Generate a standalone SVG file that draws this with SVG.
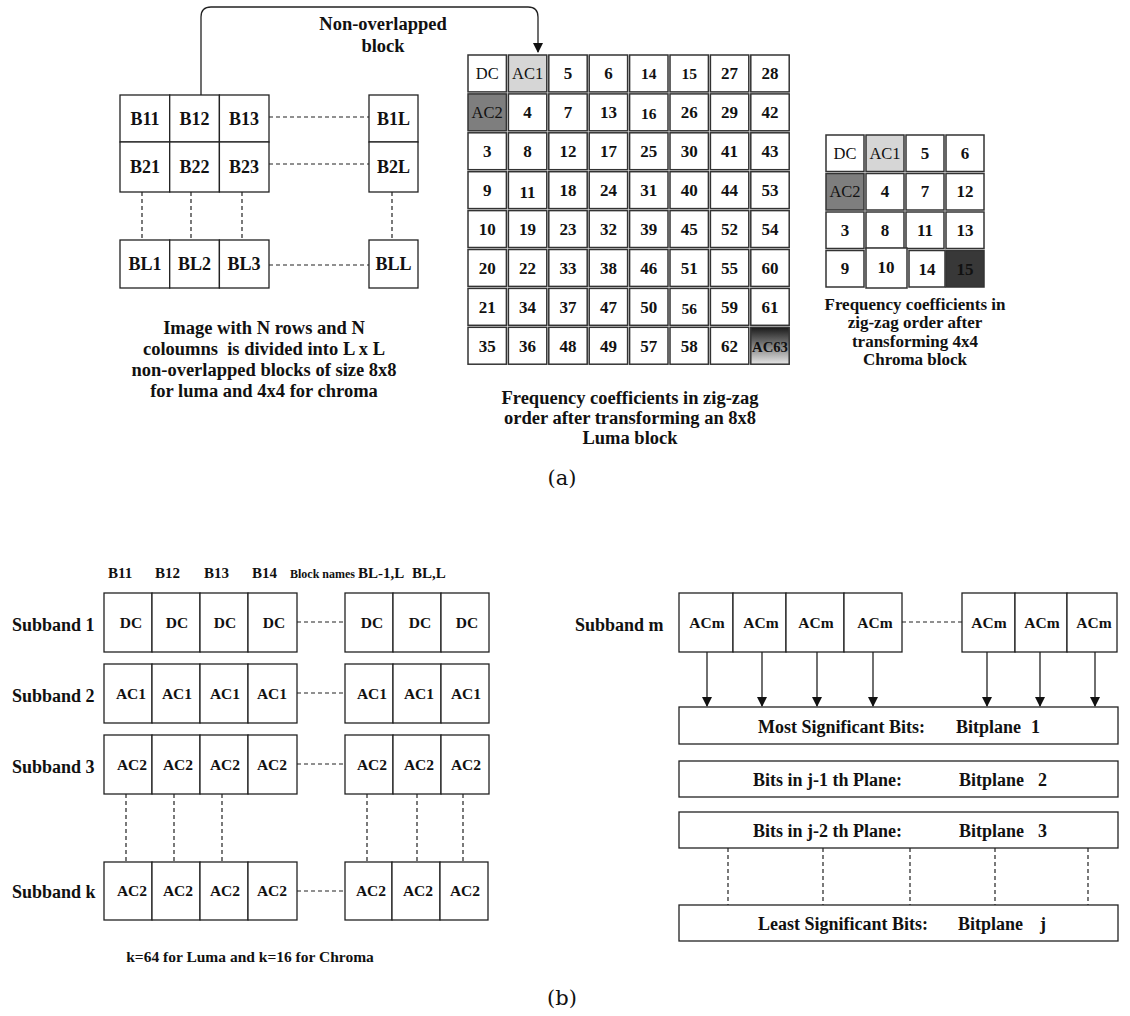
<svg xmlns="http://www.w3.org/2000/svg" width="1130" height="1016" viewBox="0 0 1130 1016">
<style>
text{font-family:"Liberation Serif","Times New Roman",serif;fill:#111}
.b{font-weight:bold}
.cell{fill:#fff;stroke:#333;stroke-width:1.5}
.box{fill:#fff;stroke:#222;stroke-width:1.3}
.dash{stroke:#222;stroke-width:1.2;stroke-dasharray:4,3;fill:none}
.ln{stroke:#222;stroke-width:1.3;fill:none}
.n{font-weight:bold;font-size:17px;text-anchor:middle}
.sm{font-size:15.5px}
.s{font-size:16.5px;text-anchor:middle}
.bl{font-weight:bold;font-size:18px;text-anchor:middle}
.cap{font-weight:bold;font-size:18.5px;text-anchor:middle}
.ccap{font-weight:bold;font-size:17px;text-anchor:middle}
.lab{font-weight:bold;font-size:18px}
.ac{font-weight:bold;font-size:15.5px;text-anchor:middle}
</style>
<defs>
<marker id="arr" markerWidth="10" markerHeight="12" refX="9" refY="5" orient="auto" markerUnits="userSpaceOnUse">
<path d="M0,0 L10,5 L0,10 z" fill="#111"/>
</marker>
<linearGradient id="g63" x1="0" y1="0" x2="0" y2="1">
<stop offset="0" stop-color="#1a1a1a"/>
<stop offset="1" stop-color="#e6e6e6"/>
</linearGradient>
</defs>

<!-- connectors -->
<g id="connectors">
<path class="ln" d="M201,95 V17 Q201,7 211,7 H528 Q538,7 538,17 V52" marker-end="url(#arr)"/>
<line class="dash" x1="269" y1="117" x2="369" y2="117"/>
<line class="dash" x1="269" y1="164" x2="369" y2="164"/>
<line class="dash" x1="269" y1="265" x2="369" y2="265"/>
<line class="dash" x1="142" y1="192" x2="142" y2="240"/>
<line class="dash" x1="191" y1="192" x2="191" y2="240"/>
<line class="dash" x1="242" y1="192" x2="242" y2="240"/>
<line class="dash" x1="392" y1="192" x2="392" y2="240"/>
<line class="dash" x1="297" y1="622" x2="345" y2="622"/>
<line class="dash" x1="297" y1="693" x2="345" y2="693"/>
<line class="dash" x1="297" y1="764" x2="345" y2="764"/>
<line class="dash" x1="297" y1="891" x2="345" y2="891"/>
<line class="dash" x1="126" y1="794" x2="126" y2="862"/>
<line class="dash" x1="174" y1="794" x2="174" y2="862"/>
<line class="dash" x1="222" y1="794" x2="222" y2="862"/>
<line class="dash" x1="367" y1="794" x2="367" y2="862"/>
<line class="dash" x1="417" y1="794" x2="417" y2="862"/>
<line class="dash" x1="463" y1="794" x2="463" y2="862"/>
<line class="dash" x1="902" y1="622" x2="962" y2="622"/>
<g marker-end="url(#arr)">
<line class="ln" x1="707" y1="652" x2="707" y2="706"/>
<line class="ln" x1="762" y1="652" x2="762" y2="706"/>
<line class="ln" x1="817" y1="652" x2="817" y2="706"/>
<line class="ln" x1="873" y1="652" x2="873" y2="706"/>
<line class="ln" x1="987" y1="652" x2="987" y2="706"/>
<line class="ln" x1="1040" y1="652" x2="1040" y2="706"/>
<line class="ln" x1="1095" y1="652" x2="1095" y2="706"/>
</g>
<line class="dash" x1="728" y1="848" x2="728" y2="905"/>
<line class="dash" x1="823" y1="848" x2="823" y2="905"/>
<line class="dash" x1="910" y1="848" x2="910" y2="905"/>
<line class="dash" x1="995" y1="848" x2="995" y2="905"/>
<line class="dash" x1="1088" y1="848" x2="1088" y2="905"/>
</g>

<text class="b" x="383" y="30" font-size="18.5" text-anchor="middle">Non-overlapped</text>
<text class="b" x="383" y="52" font-size="18.5" text-anchor="middle">block</text>

<!-- image blocks -->
<g id="image-blocks">
<rect class="box" x="120" y="95" width="49.7" height="47"/>
<rect class="box" x="169.7" y="95" width="49.7" height="47"/>
<rect class="box" x="219.4" y="95" width="49.6" height="47"/>
<rect class="box" x="120" y="142" width="49.7" height="50"/>
<rect class="box" x="169.7" y="142" width="49.7" height="50"/>
<rect class="box" x="219.4" y="142" width="49.6" height="50"/>
<rect class="box" x="369" y="95" width="49" height="47"/>
<rect class="box" x="369" y="142" width="49" height="50"/>
<rect class="box" x="120" y="240" width="49.7" height="48"/>
<rect class="box" x="169.7" y="240" width="49.7" height="48"/>
<rect class="box" x="219.4" y="240" width="49.6" height="48"/>
<rect class="box" x="369" y="240" width="49" height="48"/>
<text class="bl" x="145" y="125">B11</text>
<text class="bl" x="194.5" y="125">B12</text>
<text class="bl" x="244" y="125">B13</text>
<text class="bl" x="393.5" y="125">B1L</text>
<text class="bl" x="145" y="173">B21</text>
<text class="bl" x="194.5" y="173">B22</text>
<text class="bl" x="244" y="173">B23</text>
<text class="bl" x="393.5" y="173">B2L</text>
<text class="bl" x="145" y="270">BL1</text>
<text class="bl" x="194.5" y="270">BL2</text>
<text class="bl" x="244" y="270">BL3</text>
<text class="bl" x="393.5" y="270">BLL</text>
</g>
<g id="image-caption">
<text class="cap" x="264" y="334">Image with N rows and N</text>
<text class="cap" x="264" y="355" xml:space="preserve">coloumns  is divided into L x L</text>
<text class="cap" x="264" y="376">non-overlapped blocks of size 8x8</text>
<text class="cap" x="264" y="397">for luma and 4x4 for chroma</text>
</g>

<!-- luma grid -->
<g id="luma-grid">
<g transform="translate(467,54)">
<rect class="cell" x="1" y="1" width="38.4" height="36.9" fill="#fcfcfc"/>
<rect class="cell" x="41.4" y="1" width="38.4" height="36.9" style="fill:#d6d6d6"/>
<rect class="cell" x="81.8" y="1" width="38.4" height="36.9"/>
<rect class="cell" x="122.2" y="1" width="38.4" height="36.9"/>
<rect class="cell" x="162.6" y="1" width="38.4" height="36.9"/>
<rect class="cell" x="203" y="1" width="38.4" height="36.9"/>
<rect class="cell" x="243.4" y="1" width="38.4" height="36.9"/>
<rect class="cell" x="283.8" y="1" width="38.4" height="36.9"/>

<rect class="cell" x="1" y="39.9" width="38.4" height="36.9" style="fill:#7e7e7e"/>
<rect class="cell" x="41.4" y="39.9" width="38.4" height="36.9"/>
<rect class="cell" x="81.8" y="39.9" width="38.4" height="36.9"/>
<rect class="cell" x="122.2" y="39.9" width="38.4" height="36.9"/>
<rect class="cell" x="162.6" y="39.9" width="38.4" height="36.9"/>
<rect class="cell" x="203" y="39.9" width="38.4" height="36.9"/>
<rect class="cell" x="243.4" y="39.9" width="38.4" height="36.9"/>
<rect class="cell" x="283.8" y="39.9" width="38.4" height="36.9"/>

<rect class="cell" x="1" y="78.8" width="38.4" height="36.9"/>
<rect class="cell" x="41.4" y="78.8" width="38.4" height="36.9"/>
<rect class="cell" x="81.8" y="78.8" width="38.4" height="36.9"/>
<rect class="cell" x="122.2" y="78.8" width="38.4" height="36.9"/>
<rect class="cell" x="162.6" y="78.8" width="38.4" height="36.9"/>
<rect class="cell" x="203" y="78.8" width="38.4" height="36.9"/>
<rect class="cell" x="243.4" y="78.8" width="38.4" height="36.9"/>
<rect class="cell" x="283.8" y="78.8" width="38.4" height="36.9"/>

<rect class="cell" x="1" y="117.7" width="38.4" height="36.9"/>
<rect class="cell" x="41.4" y="117.7" width="38.4" height="36.9"/>
<rect class="cell" x="81.8" y="117.7" width="38.4" height="36.9"/>
<rect class="cell" x="122.2" y="117.7" width="38.4" height="36.9"/>
<rect class="cell" x="162.6" y="117.7" width="38.4" height="36.9"/>
<rect class="cell" x="203" y="117.7" width="38.4" height="36.9"/>
<rect class="cell" x="243.4" y="117.7" width="38.4" height="36.9"/>
<rect class="cell" x="283.8" y="117.7" width="38.4" height="36.9"/>

<rect class="cell" x="1" y="156.6" width="38.4" height="36.9"/>
<rect class="cell" x="41.4" y="156.6" width="38.4" height="36.9"/>
<rect class="cell" x="81.8" y="156.6" width="38.4" height="36.9"/>
<rect class="cell" x="122.2" y="156.6" width="38.4" height="36.9"/>
<rect class="cell" x="162.6" y="156.6" width="38.4" height="36.9"/>
<rect class="cell" x="203" y="156.6" width="38.4" height="36.9"/>
<rect class="cell" x="243.4" y="156.6" width="38.4" height="36.9"/>
<rect class="cell" x="283.8" y="156.6" width="38.4" height="36.9"/>

<rect class="cell" x="1" y="195.5" width="38.4" height="36.9"/>
<rect class="cell" x="41.4" y="195.5" width="38.4" height="36.9"/>
<rect class="cell" x="81.8" y="195.5" width="38.4" height="36.9"/>
<rect class="cell" x="122.2" y="195.5" width="38.4" height="36.9"/>
<rect class="cell" x="162.6" y="195.5" width="38.4" height="36.9"/>
<rect class="cell" x="203" y="195.5" width="38.4" height="36.9"/>
<rect class="cell" x="243.4" y="195.5" width="38.4" height="36.9"/>
<rect class="cell" x="283.8" y="195.5" width="38.4" height="36.9"/>

<rect class="cell" x="1" y="234.4" width="38.4" height="36.9"/>
<rect class="cell" x="41.4" y="234.4" width="38.4" height="36.9"/>
<rect class="cell" x="81.8" y="234.4" width="38.4" height="36.9"/>
<rect class="cell" x="122.2" y="234.4" width="38.4" height="36.9"/>
<rect class="cell" x="162.6" y="234.4" width="38.4" height="36.9"/>
<rect class="cell" x="203" y="234.4" width="38.4" height="36.9"/>
<rect class="cell" x="243.4" y="234.4" width="38.4" height="36.9"/>
<rect class="cell" x="283.8" y="234.4" width="38.4" height="36.9"/>

<rect class="cell" x="1" y="273.3" width="38.4" height="36.9"/>
<rect class="cell" x="41.4" y="273.3" width="38.4" height="36.9"/>
<rect class="cell" x="81.8" y="273.3" width="38.4" height="36.9"/>
<rect class="cell" x="122.2" y="273.3" width="38.4" height="36.9"/>
<rect class="cell" x="162.6" y="273.3" width="38.4" height="36.9"/>
<rect class="cell" x="203" y="273.3" width="38.4" height="36.9"/>
<rect class="cell" x="243.4" y="273.3" width="38.4" height="36.9"/>
<rect class="cell" x="283.8" y="273.3" width="38.4" height="36.9" style="fill:url(#g63)"/>

<text class="s" x="20.2" y="25">DC</text>
<text class="s" x="60.6" y="25">AC1</text>
<text class="n" x="101" y="25">5</text>
<text class="n" x="141.4" y="25">6</text>
<text class="n sm" x="181.8" y="25">14</text>
<text class="n sm" x="222.2" y="25">15</text>
<text class="n" x="262.6" y="25">27</text>
<text class="n" x="303" y="25">28</text>

<text class="s" x="20.2" y="64">AC2</text>
<text class="n" x="60.6" y="64">4</text>
<text class="n" x="101" y="64">7</text>
<text class="n" x="141.4" y="64">13</text>
<text class="n sm" x="181.8" y="65">16</text>
<text class="n" x="222.2" y="64">26</text>
<text class="n" x="262.6" y="64">29</text>
<text class="n" x="303" y="64">42</text>

<text class="n" x="20.2" y="103">3</text>
<text class="n" x="60.6" y="103">8</text>
<text class="n" x="101" y="103">12</text>
<text class="n" x="141.4" y="103">17</text>
<text class="n" x="181.8" y="103">25</text>
<text class="n" x="222.2" y="103">30</text>
<text class="n" x="262.6" y="103">41</text>
<text class="n" x="303" y="103">43</text>

<text class="n" x="20.2" y="142">9</text>
<text class="n" x="60.6" y="144">11</text>
<text class="n" x="101" y="142">18</text>
<text class="n" x="141.4" y="142">24</text>
<text class="n" x="181.8" y="142">31</text>
<text class="n" x="222.2" y="142">40</text>
<text class="n" x="262.6" y="142">44</text>
<text class="n" x="303" y="142">53</text>

<text class="n" x="20.2" y="181">10</text>
<text class="n" x="60.6" y="181">19</text>
<text class="n" x="101" y="181">23</text>
<text class="n" x="141.4" y="181">32</text>
<text class="n" x="181.8" y="181">39</text>
<text class="n" x="222.2" y="181">45</text>
<text class="n" x="262.6" y="181">52</text>
<text class="n" x="303" y="181">54</text>

<text class="n" x="20.2" y="220">20</text>
<text class="n" x="60.6" y="220">22</text>
<text class="n" x="101" y="220">33</text>
<text class="n" x="141.4" y="220">38</text>
<text class="n" x="181.8" y="220">46</text>
<text class="n" x="222.2" y="220">51</text>
<text class="n" x="262.6" y="220">55</text>
<text class="n" x="303" y="220">60</text>

<text class="n" x="20.2" y="259">21</text>
<text class="n" x="60.6" y="259">34</text>
<text class="n" x="101" y="259">37</text>
<text class="n" x="141.4" y="259">47</text>
<text class="n" x="181.8" y="259">50</text>
<text class="n sm" x="222.2" y="260">56</text>
<text class="n" x="262.6" y="259">59</text>
<text class="n" x="303" y="259">61</text>

<text class="n" x="20.2" y="298">35</text>
<text class="n" x="60.6" y="298">36</text>
<text class="n" x="101" y="298">48</text>
<text class="n" x="141.4" y="298">49</text>
<text class="n" x="181.8" y="298">57</text>
<text class="n" x="222.2" y="298">58</text>
<text class="n" x="262.6" y="298">62</text>
<text class="n" x="303" y="298" style="font-size:14px" textLength="36" lengthAdjust="spacingAndGlyphs">AC63</text>
</g>
</g>
<g id="luma-caption">
<text class="cap" x="630" y="404">Frequency coefficients in zig-zag</text>
<text class="cap" x="630" y="424">order after transforming an 8x8</text>
<text class="cap" x="630" y="444">Luma block</text>
</g>

<!-- chroma grid -->
<g id="chroma-grid">
<g transform="translate(825,134)">
<rect class="cell" x="1" y="1" width="38" height="36.5" fill="#fcfcfc"/>
<rect class="cell" x="41" y="1" width="38" height="36.5" style="fill:#d6d6d6"/>
<rect class="cell" x="81" y="1" width="38" height="36.5"/>
<rect class="cell" x="121" y="1" width="38" height="36.5"/>
<rect class="cell" x="1" y="39.5" width="38" height="36.5" style="fill:#7e7e7e"/>
<rect class="cell" x="41" y="39.5" width="38" height="36.5"/>
<rect class="cell" x="81" y="39.5" width="38" height="36.5"/>
<rect class="cell" x="121" y="39.5" width="38" height="36.5"/>
<rect class="cell" x="1" y="78" width="38" height="36.5"/>
<rect class="cell" x="41" y="78" width="38" height="36.5"/>
<rect class="cell" x="81" y="78" width="38" height="36.5"/>
<rect class="cell" x="121" y="78" width="38" height="36.5"/>
<rect class="cell" x="1" y="116.5" width="38" height="36.5"/>
<rect class="cell" x="41" y="114" width="41" height="40"/>
<rect class="cell" x="84" y="116.5" width="36" height="36.5"/>
<rect class="cell" x="121" y="116.5" width="38" height="36.5" style="fill:#383838"/>
<text class="s" x="20" y="25">DC</text>
<text class="s" x="60" y="25">AC1</text>
<text class="n" x="100" y="25">5</text>
<text class="n" x="140" y="25">6</text>
<text class="s" x="20" y="63">AC2</text>
<text class="n" x="60" y="63">4</text>
<text class="n" x="100" y="63">7</text>
<text class="n" x="140" y="63">12</text>
<text class="n" x="20" y="102">3</text>
<text class="n" x="60" y="102">8</text>
<text class="n" x="100" y="102">11</text>
<text class="n" x="140" y="102">13</text>
<text class="n" x="20" y="140">9</text>
<text class="n" x="61" y="139">10</text>
<text class="n" x="102" y="141">14</text>
<text class="n" x="140" y="141" style="fill:#111">15</text>
</g>
</g>
<g id="chroma-caption">
<text class="ccap" x="915" y="310">Frequency coefficients in</text>
<text class="ccap" x="915" y="328">zig-zag order after</text>
<text class="ccap" x="915" y="347">transforming 4x4</text>
<text class="ccap" x="915" y="365">Chroma block</text>
</g>

<text x="562" y="485" font-size="21" text-anchor="middle" style="font-family:'DejaVu Serif','Liberation Serif',serif">(a)</text>

<!-- subbands (b) left -->
<g id="block-names">
<text class="b" x="108" y="578" font-size="15">B11</text>
<text class="b" x="155" y="578" font-size="15">B12</text>
<text class="b" x="204" y="578" font-size="15">B13</text>
<text class="b" x="252" y="578" font-size="15">B14</text>
<text class="b" x="290" y="578" font-size="12">Block names</text>
<text class="b" x="358" y="578" font-size="15">BL-1,L</text>
<text class="b" x="412" y="578" font-size="15">BL,L</text>
</g>

<g id="subband-1">
<text class="lab" x="12" y="631">Subband 1</text>
<rect class="box" x="104" y="593" width="48" height="59"/>
<rect class="box" x="152" y="593" width="48" height="59"/>
<rect class="box" x="200" y="593" width="48" height="59"/>
<rect class="box" x="248" y="593" width="49" height="59"/>
<rect class="box" x="345" y="593" width="48" height="59"/>
<rect class="box" x="393" y="593" width="48" height="59"/>
<rect class="box" x="441" y="593" width="48" height="59"/>
<text class="ac" x="131" y="628">DC</text>
<text class="ac" x="177" y="628">DC</text>
<text class="ac" x="225" y="628">DC</text>
<text class="ac" x="274" y="628">DC</text>
<text class="ac" x="372" y="628">DC</text>
<text class="ac" x="420" y="628">DC</text>
<text class="ac" x="467" y="628">DC</text>
</g>
<g id="subband-2">
<text class="lab" x="12" y="702">Subband 2</text>
<rect class="box" x="104" y="664" width="48" height="59"/>
<rect class="box" x="152" y="664" width="48" height="59"/>
<rect class="box" x="200" y="664" width="48" height="59"/>
<rect class="box" x="248" y="664" width="49" height="59"/>
<rect class="box" x="345" y="664" width="48" height="59"/>
<rect class="box" x="393" y="664" width="48" height="59"/>
<rect class="box" x="441" y="664" width="48" height="59"/>
<text class="ac" x="131" y="699">AC1</text>
<text class="ac" x="177" y="699">AC1</text>
<text class="ac" x="225" y="699">AC1</text>
<text class="ac" x="272" y="699">AC1</text>
<text class="ac" x="372" y="699">AC1</text>
<text class="ac" x="419" y="699">AC1</text>
<text class="ac" x="466" y="699">AC1</text>
</g>
<g id="subband-3">
<text class="lab" x="12" y="773">Subband 3</text>
<rect class="box" x="104" y="735" width="48" height="59"/>
<rect class="box" x="152" y="735" width="48" height="59"/>
<rect class="box" x="200" y="735" width="48" height="59"/>
<rect class="box" x="248" y="735" width="49" height="59"/>
<rect class="box" x="345" y="735" width="48" height="59"/>
<rect class="box" x="393" y="735" width="48" height="59"/>
<rect class="box" x="441" y="735" width="48" height="59"/>
<text class="ac" x="132" y="770">AC2</text>
<text class="ac" x="178" y="770">AC2</text>
<text class="ac" x="225" y="770">AC2</text>
<text class="ac" x="272" y="770">AC2</text>
<text class="ac" x="372" y="770">AC2</text>
<text class="ac" x="419" y="770">AC2</text>
<text class="ac" x="466" y="770">AC2</text>
</g>
<g id="subband-k">
<text class="lab" x="12" y="898">Subband k</text>
<rect class="box" x="104" y="862" width="48" height="58"/>
<rect class="box" x="152" y="862" width="48" height="58"/>
<rect class="box" x="200" y="862" width="48" height="58"/>
<rect class="box" x="248" y="862" width="49" height="58"/>
<rect class="box" x="345" y="862" width="47" height="58"/>
<rect class="box" x="392" y="862" width="48" height="58"/>
<rect class="box" x="440" y="862" width="48" height="58"/>
<text class="ac" x="132" y="896">AC2</text>
<text class="ac" x="178" y="896">AC2</text>
<text class="ac" x="225" y="896">AC2</text>
<text class="ac" x="272" y="896">AC2</text>
<text class="ac" x="371" y="896">AC2</text>
<text class="ac" x="418" y="896">AC2</text>
<text class="ac" x="465" y="896">AC2</text>
</g>
<text class="b" x="250" y="962" font-size="15.5" text-anchor="middle">k=64 for Luma and k=16 for Chroma</text>

<!-- subband m (b) right -->
<g id="subband-m">
<text class="lab" x="575" y="631">Subband m</text>
<rect class="box" x="679" y="593" width="54" height="59"/>
<rect class="box" x="733" y="593" width="53" height="59"/>
<rect class="box" x="786" y="593" width="58" height="59"/>
<rect class="box" x="844" y="593" width="58" height="59"/>
<rect class="box" x="962" y="593" width="53" height="59"/>
<rect class="box" x="1015" y="593" width="52" height="59"/>
<rect class="box" x="1067" y="593" width="50" height="59"/>
<text class="ac" x="707" y="628">ACm</text>
<text class="ac" x="761" y="628">ACm</text>
<text class="ac" x="816" y="628">ACm</text>
<text class="ac" x="875" y="628">ACm</text>
<text class="ac" x="989" y="628">ACm</text>
<text class="ac" x="1042" y="628">ACm</text>
<text class="ac" x="1094" y="628">ACm</text>
</g>
<g id="bitplane-1">
<rect class="box" x="679" y="707" width="439" height="37"/>
<text class="lab" x="758" y="733">Most Significant Bits:</text>
<text class="lab" x="956" y="733">Bitplane</text>
<text class="lab" x="1031" y="733">1</text>
</g>
<g id="bitplane-2">
<rect class="box" x="679" y="761" width="439" height="36"/>
<text class="lab" x="753" y="786">Bits in j-1 th Plane:</text>
<text class="lab" x="959" y="786">Bitplane</text>
<text class="lab" x="1038" y="786">2</text>
</g>
<g id="bitplane-3">
<rect class="box" x="679" y="812" width="439" height="36"/>
<text class="lab" x="753" y="837">Bits in j-2 th Plane:</text>
<text class="lab" x="959" y="837">Bitplane</text>
<text class="lab" x="1038" y="837">3</text>
</g>
<g id="bitplane-j">
<rect class="box" x="679" y="905" width="439" height="36"/>
<text class="lab" x="758" y="930">Least Significant Bits:</text>
<text class="lab" x="958" y="930">Bitplane</text>
<text class="lab" x="1040" y="930">j</text>
</g>

<text x="562" y="1005" font-size="21" text-anchor="middle" style="font-family:'DejaVu Serif','Liberation Serif',serif">(b)</text>
</svg>
